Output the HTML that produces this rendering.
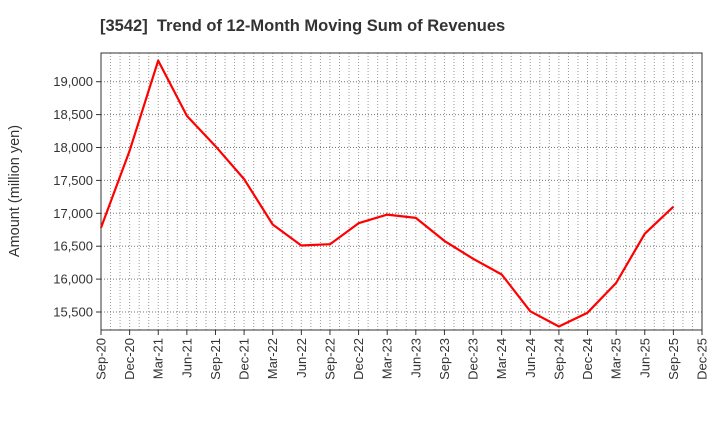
<!DOCTYPE html>
<html><head><meta charset="utf-8"><style>
body{margin:0;background:#fff;width:720px;height:440px;overflow:hidden;font-family:"Liberation Sans",Arial,sans-serif}
</style></head><body>
<svg id="s" width="720" height="440" xmlns="http://www.w3.org/2000/svg" font-family="Liberation Sans, Arial, sans-serif">
<text x="100" y="31" font-size="16.5" font-weight="bold" fill="#333">[3542]&#160; Trend of 12-Month Moving Sum of Revenues</text>
<text transform="translate(19,191) rotate(-90)" font-size="14.5" fill="#333" text-anchor="middle">Amount (million yen)</text>
<g id="g"></g>
</svg>
<script>
var g=document.getElementById('g'),h='';
var L=101,R=702,T=53,B=330,dx=(R-L)/21;
function Y(v){return 81.7+(19000-v)*0.0658;}
for(var i=1;i<63;i++){var x=L+i*dx/3;h+='<line x1="'+x+'" y1="'+T+'" x2="'+x+'" y2="'+B+'" stroke="#999" stroke-dasharray="1,2" stroke-width="1"/>';}
for(var v=15500;v<=19000;v+=500){var y=Y(v);h+='<line x1="'+L+'" y1="'+y+'" x2="'+R+'" y2="'+y+'" stroke="#777" stroke-dasharray="1,2"/>';
h+='<text x="93" y="'+(y+4.5)+'" font-size="13" text-anchor="end" fill="#333">'+(v/1000|0)+','+String(v%1000).padStart(3,'0')+'</text>';h+='<line x1="'+(L-5)+'" y1="'+y+'" x2="'+L+'" y2="'+y+'" stroke="#333"/>';}
var labs=[];var m=['Sep','Dec','Mar','Jun'];
for(var i=0;i<=21;i++){labs.push(m[i%4]+'-'+(20+Math.floor((i+2)/4)));}
for(var i=0;i<=21;i++){var x=L+i*dx;h+='<line x1="'+x+'" y1="'+B+'" x2="'+x+'" y2="'+(B+5)+'" stroke="#333"/>';
h+='<text transform="translate('+(x+4.5)+','+(B+8)+') rotate(-90)" font-size="13" text-anchor="end" fill="#333">'+labs[i]+'</text>';}
h+='<rect x="'+L+'" y="'+T+'" width="'+(R-L)+'" height="'+(B-T)+'" fill="none" stroke="#333" stroke-width="1"/>';
var d=[16780,17950,19320,18480,18020,17520,16830,16510,16530,16850,16980,16930,16580,16310,16070,15510,15280,15490,15940,16690,17100];
var p=d.map(function(v,i){return (L+i*dx).toFixed(1)+','+Y(v).toFixed(1)}).join(' ');
h+='<polyline points="'+p+'" fill="none" stroke="#f00" stroke-width="2.2" stroke-linejoin="round"/>';
g.innerHTML=h;
</script>
</body></html>
